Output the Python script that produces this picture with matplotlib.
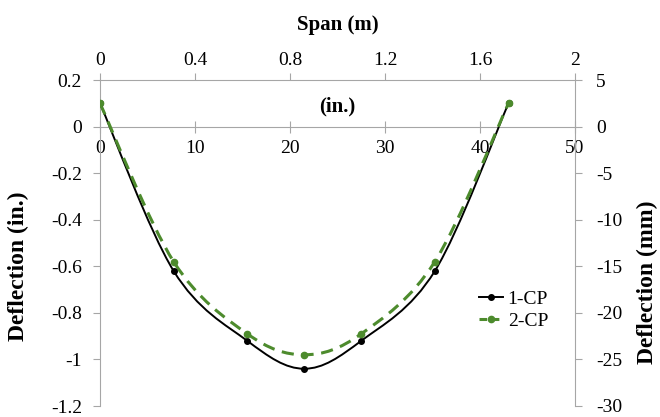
import numpy as np
import matplotlib
matplotlib.use("Agg")
import matplotlib.pyplot as plt
from matplotlib.path import Path
from matplotlib.patches import PathPatch
from matplotlib.lines import Line2D

plt.rcParams['font.family'] = ['Liberation Serif', 'DejaVu Serif']
plt.rcParams['axes.unicode_minus'] = False

# gauge positions along the span (in.) and measured deflections (in.)
pos_in = [0, 7.75, 15.5, 21.5, 27.5, 35.25, 43]
defl_1cp = [0.1, -0.62, -0.92, -1.04, -0.92, -0.62, 0.1]
defl_2cp = [0.1, -0.58, -0.89, -0.98, -0.89, -0.58, 0.1]

in_ticks = [0, 10, 20, 30, 40, 50]
m_ticks = [0, 0.4, 0.8, 1.2, 1.6, 2]
mm_ticks = [-30, -25, -20, -15, -10, -5, 0, 5]
in_yticks = [-1.2, -1, -0.8, -0.6, -0.4, -0.2, 0, 0.2]

green = '#4d8b2d'
gray = '#a6a6a6'
fs = 14


def smooth_path(xs, ys):
    # Catmull-Rom style cubic bezier through the points
    p = np.column_stack([xs, ys]).astype(float)
    n = len(p)
    verts = [p[0]]
    codes = [Path.MOVETO]
    for i in range(n - 1):
        p0 = p[max(i - 1, 0)]
        p1 = p[i]
        p2 = p[i + 1]
        p3 = p[min(i + 2, n - 1)]
        verts += [p1 + (p2 - p0) / 6, p2 - (p3 - p1) / 6, p2]
        codes += [Path.CURVE4] * 3
    return Path(verts, codes)


fig = plt.figure(figsize=(6.6, 4.17), dpi=100)
ax = fig.add_axes([100 / 660, 1 - 406 / 417, 475 / 660, 326 / 417])
ax.set_xlim(0, 50)
ax.set_ylim(-1.2, 0.2)

ax.add_patch(PathPatch(smooth_path(pos_in, defl_1cp), fill=False,
                       edgecolor='black', lw=1.4, zorder=3))
ax.plot(pos_in, defl_1cp, 'o', color='black', ms=4, zorder=4)
ax.add_patch(PathPatch(smooth_path(pos_in, defl_2cp), fill=False,
                       edgecolor=green, lw=2.2, linestyle=(0, (4, 2.5)), zorder=3))
ax.plot(pos_in, defl_2cp, 'o', color=green, ms=4.5, zorder=4)

# spines: left axis plus the (in.) axis running along zero
for s in ['top', 'right']:
    ax.spines[s].set_visible(False)
ax.spines['left'].set_color(gray)
ax.spines['bottom'].set_color(gray)
ax.spines['bottom'].set_position(('data', 0))
ax.set_xticks(in_ticks)
ax.set_yticks(in_yticks)
ax.set_yticklabels(['-1.2', '-1', '-0.8', '-0.6', '-0.4', '-0.2', '0', '0.2'])
ax.tick_params(axis='x', direction='inout', length=8, color=gray,
               labelsize=fs, pad=6)
ax.tick_params(axis='y', direction='out', length=5, color=gray,
               labelsize=fs, pad=8)
ax.text(25, 0.085, '(in.)', ha='center', va='center', fontsize=15,
        fontweight='bold')
ax.set_ylabel('Deflection (in.)', fontsize=17, fontweight='bold')
ax.yaxis.label.set_va('center')
ax.yaxis.set_label_coords(-0.172, 0.43)

# top axis in metres
axt = ax.twiny()
axt.set_xlim(0, 2)
axt.set_xticks(m_ticks)
axt.set_xticklabels(['0', '0.4', '0.8', '1.2', '1.6', '2'])
for s in ['bottom', 'left', 'right']:
    axt.spines[s].set_visible(False)
axt.spines['top'].set_color(gray)
axt.tick_params(axis='x', direction='out', length=5, color=gray,
                labelsize=fs, pad=3)
axt.set_xlabel('Span (m)', fontsize=15, fontweight='bold', labelpad=16)

# right axis in mm
axr = ax.twinx()
axr.set_ylim(-30, 5)
axr.set_yticks(mm_ticks)
for s in ['bottom', 'left', 'top']:
    axr.spines[s].set_visible(False)
axr.spines['right'].set_color(gray)
axr.tick_params(axis='y', direction='out', length=5, color=gray,
                labelsize=fs, pad=10)
axr.set_ylabel('Deflection (mm)', fontsize=17, fontweight='bold')
axr.yaxis.label.set_va('center')
axr.yaxis.set_label_coords(1.152, 0.38)

handles = [Line2D([], [], color='black', marker='o', ms=4, lw=1.4),
           Line2D([], [], color=green, marker='o', ms=4.5, lw=2.2,
                  linestyle=(0, (2.5, 1.5)))]
fig.legend(handles, ['1-CP', '2-CP'], loc='upper left',
           bbox_to_anchor=(462 / 660, 1 - 273 / 417), frameon=False,
           fontsize=fs, handlelength=1.2, handletextpad=0.25,
           labelspacing=0.2)

fig.savefig('out.png', dpi=100)
